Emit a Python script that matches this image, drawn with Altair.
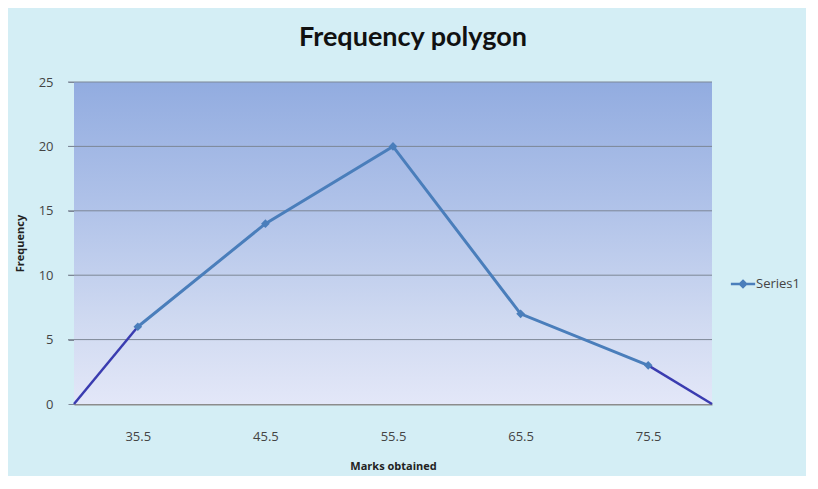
import altair as alt
import pandas as pd

marks = [35.5, 45.5, 55.5, 65.5, 75.5]
freq = [6, 14, 20, 7, 3]
left_x = [30.5, 35.5]
left_y = [0, 6]
right_x = [75.5, 80.5]
right_y = [3, 0]
y_ticks = [0, 5, 10, 15, 20, 25]

W, H = 638, 322
BLUE = "#4a7ebb"
DARK = "#3a3cb0"

df = pd.DataFrame({"x": marks, "y": freq, "s": ["Series1"] * len(marks)})
df_l = pd.DataFrame({"x": left_x, "y": left_y})
df_r = pd.DataFrame({"x": right_x, "y": right_y})
df_g = pd.DataFrame({"y": y_ticks[1:]})

xs = alt.Scale(domain=[30.5, 80.5], nice=False, zero=False)
ys = alt.Scale(domain=[0, 25], nice=False)

bg = alt.Chart(pd.DataFrame({"a": [0]})).mark_rect(
    color=alt.Gradient(
        gradient="linear",
        stops=[
            alt.GradientStop(color="#92ace0", offset=0),
            alt.GradientStop(color="#b1c3e9", offset=0.4),
            alt.GradientStop(color="#d0daf1", offset=0.75),
            alt.GradientStop(color="#e3e7f8", offset=1),
        ],
        x1=0, x2=0, y1=0, y2=1,
    )
).encode(x=alt.value(0), x2=alt.value(W), y=alt.value(0), y2=alt.value(H))

grid = alt.Chart(df_g).mark_rule(color="#7d8796", strokeWidth=1).encode(
    y=alt.Y("y:Q", scale=ys), x=alt.value(-6), x2=alt.value(W)
)

xaxis = alt.Axis(
    values=marks, format=".1f", title="Marks obtained", grid=False,
    ticks=False, labelPadding=26, labelFontSize=13, labelColor="#444444",
    labelFont="Open Sans", titleFont="Open Sans", titleFontSize=11,
    titleFontWeight="bold", titleColor="#222222", titlePadding=17,
    domainColor="#8c8c8c", domainWidth=2,
)
yaxis = alt.Axis(
    values=y_ticks, title="Frequency", grid=False,
    tickSize=6, tickColor="#7d8796", labelPadding=15,
    labelFontSize=13, labelColor="#444444", labelFont="Open Sans",
    titleFont="Open Sans", titleFontSize=11, titleFontWeight="bold",
    titleColor="#222222", titlePadding=13, domainColor="#8c8c8c",
)

main_line = alt.Chart(df).mark_line(color=BLUE, strokeWidth=3).encode(
    x=alt.X("x:Q", scale=xs, axis=xaxis),
    y=alt.Y("y:Q", scale=ys, axis=yaxis),
)
pts = alt.Chart(df).mark_point(
    shape="diamond", filled=True, size=75, opacity=1
).encode(
    x=alt.X("x:Q", scale=xs),
    y=alt.Y("y:Q", scale=ys),
    color=alt.Color(
        "s:N", scale=alt.Scale(range=[BLUE]),
        legend=alt.Legend(
            title=None, orient="none", legendX=660, legendY=193,
            symbolType="M-1.6,0H1.6M0,-0.4L0.4,0L0,0.4L-0.4,0Z",
            symbolSize=230, symbolStrokeWidth=2.5, symbolStrokeColor=BLUE,
            symbolFillColor=BLUE, labelFontSize=13, labelColor="#444444",
            labelFont="Open Sans", labelOffset=4,
        ),
    ),
)
l_line = alt.Chart(df_l).mark_line(color=DARK, strokeWidth=2.5).encode(
    x=alt.X("x:Q", scale=xs), y=alt.Y("y:Q", scale=ys)
)
r_line = alt.Chart(df_r).mark_line(color=DARK, strokeWidth=2.5).encode(
    x=alt.X("x:Q", scale=xs), y=alt.Y("y:Q", scale=ys)
)

chart = alt.layer(bg, grid, l_line, r_line, main_line, pts).properties(
    width=W, height=H,
    title=alt.TitleParams(
        "Frequency polygon", font="Lato", fontSize=27, fontWeight="bold",
        color="#111111", offset=24, dx=20, anchor="middle",
    ),
    background="#d4eef5",
    autosize=alt.AutoSizeParams(type="none"),
    padding={"left": 66, "top": 74, "right": 94, "bottom": 72},
).configure_view(stroke=None)

chart.save("out.html", embed_options={"renderer": "svg", "actions": False})
